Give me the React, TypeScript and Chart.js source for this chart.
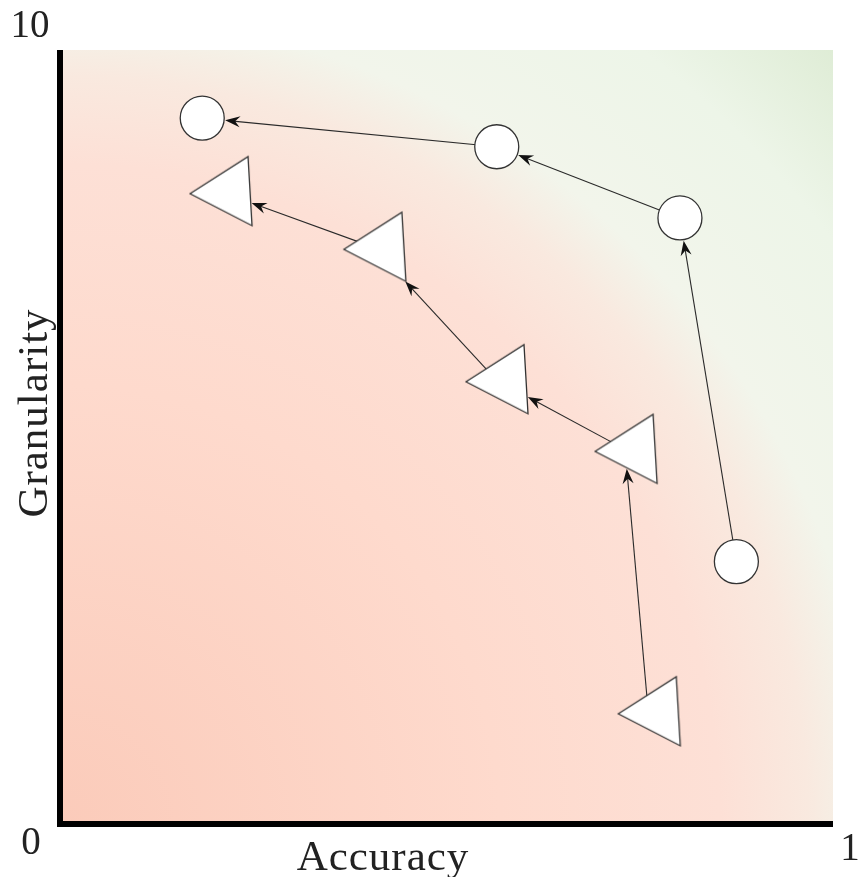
import React, { useEffect, useRef } from 'react';
import { Chart, registerables } from 'chart.js';

Chart.register(...registerables);

// ---- data (arrow path order) ----
const circleX = [0.875, 0.802, 0.565, 0.184];
const circleY = [3.39, 7.83, 8.75, 9.12];
const triangleX = [0.761, 0.731, 0.564, 0.406, 0.207];
const triangleY = [1.45, 4.84, 5.74, 7.45, 8.17];
const xTickLabels = ['0', '1'];
const yTickLabels = ['0', '10'];
const xTitle = 'Accuracy';
const yTitle = 'Granularity';

// ---- styling ----
const TRI: [number, number][] = [[-30, 2], [28, -35], [32, 34]];
const CIRCLE_R = 22;
const SERIF = '"Liberation Serif", "Times New Roman", serif';

function makeTriangle(): HTMLCanvasElement {
  const c = document.createElement('canvas');
  c.width = 70;
  c.height = 76;
  const ctx = c.getContext('2d')!;
  const cx = 35, cy = 38;
  ctx.beginPath();
  TRI.forEach(([dx, dy], i) => (i ? ctx.lineTo(cx + dx, cy + dy) : ctx.moveTo(cx + dx, cy + dy)));
  ctx.closePath();
  ctx.fillStyle = '#ffffff';
  ctx.fill();
  ctx.strokeStyle = '#333';
  ctx.lineWidth = 1.3;
  ctx.stroke();
  return c;
}

function entry(sx: number, sy: number, ex: number, ey: number, kind: string): [number, number] {
  if (kind === 'circle') {
    const d = Math.hypot(ex - sx, ey - sy);
    const r = CIRCLE_R + 1;
    return [ex - ((ex - sx) / d) * r, ey - ((ey - sy) / d) * r];
  }
  let bestT = 1;
  for (let i = 0; i < 3; i++) {
    const p1 = [ex + TRI[i][0], ey + TRI[i][1]];
    const p2 = [ex + TRI[(i + 1) % 3][0], ey + TRI[(i + 1) % 3][1]];
    const rx = ex - sx, ry = ey - sy;
    const qx = p2[0] - p1[0], qy = p2[1] - p1[1];
    const den = rx * qy - ry * qx;
    if (Math.abs(den) < 1e-9) continue;
    const wx = p1[0] - sx, wy = p1[1] - sy;
    const t = (wx * qy - wy * qx) / den;
    const u = (wx * ry - wy * rx) / den;
    if (t >= 0 && t <= 1 && u >= 0 && u <= 1 && t < bestT) bestT = t;
  }
  const d = Math.hypot(ex - sx, ey - sy);
  const t = bestT - 1 / d;
  return [sx + (ex - sx) * t, sy + (ey - sy) * t];
}

const arrowsPlugin = {
  id: 'arrowsAndFrame',
  beforeDatasetsDraw(chart: any) {
    const { ctx, chartArea } = chart;
    const { left, right, top, bottom } = chartArea;
    // background gradient
    const g = ctx.createRadialGradient(left, bottom, 0, left, bottom, 1100);
    g.addColorStop(0, 'rgb(251,203,186)');
    g.addColorStop(0.4, 'rgb(254,218,205)');
    g.addColorStop(0.6, 'rgb(253,224,214)');
    g.addColorStop(0.68, 'rgb(249,233,223)');
    g.addColorStop(0.74, 'rgb(242,245,235)');
    g.addColorStop(0.88, 'rgb(237,245,232)');
    g.addColorStop(1, 'rgb(222,236,213)');
    ctx.save();
    ctx.fillStyle = g;
    ctx.fillRect(left, top, right - left, bottom - top);
    ctx.restore();

    const xs = chart.scales.x, ys = chart.scales.y;
    const series = [
      { X: circleX, Y: circleY, kind: 'circle' },
      { X: triangleX, Y: triangleY, kind: 'triangle' },
    ];
    const heads: any[] = [];
    ctx.save();
    ctx.strokeStyle = '#2a2a2a';
    ctx.lineWidth = 1.1;
    for (const s of series) {
      for (let i = 0; i < s.X.length - 1; i++) {
        const sx = xs.getPixelForValue(s.X[i]);
        const sy = ys.getPixelForValue(s.Y[i]);
        const ex = xs.getPixelForValue(s.X[i + 1]);
        const ey = ys.getPixelForValue(s.Y[i + 1]);
        const [tx, ty] = entry(sx, sy, ex, ey, s.kind);
        const ang = Math.atan2(ty - sy, tx - sx);
        ctx.beginPath();
        ctx.moveTo(sx, sy);
        ctx.lineTo(tx - Math.cos(ang) * 8, ty - Math.sin(ang) * 8);
        ctx.stroke();
        heads.push([tx, ty, ang]);
      }
    }
    ctx.restore();
    chart.$heads = heads;
  },
  afterDatasetsDraw(chart: any) {
    const { ctx, chartArea } = chart;
    const { left, right, top, bottom } = chartArea;
    ctx.save();
    ctx.fillStyle = '#111';
    for (const [tx, ty, ang] of chart.$heads || []) {
      ctx.save();
      ctx.translate(tx, ty);
      ctx.rotate(ang);
      ctx.beginPath();
      ctx.moveTo(0, 0);
      ctx.lineTo(-15, -5.5);
      ctx.lineTo(-10, 0);
      ctx.lineTo(-15, 5.5);
      ctx.closePath();
      ctx.fill();
      ctx.restore();
    }
    // axis lines
    ctx.fillStyle = '#000';
    ctx.fillRect(left - 3, top, 6, bottom - top + 3);
    ctx.fillRect(left - 3, bottom - 3, right - left + 3, 6);

    // tick labels
    const xs = chart.scales.x, ys = chart.scales.y;
    ctx.fillStyle = '#222';
    ctx.font = `39px ${SERIF}`;
    ctx.textAlign = 'center';
    ctx.textBaseline = 'alphabetic';
    ctx.fillText(xTickLabels[0], xs.getPixelForValue(0) - 29, bottom + 30);
    ctx.fillText(xTickLabels[1], xs.getPixelForValue(1) + 17, bottom + 36);
    ctx.fillText(yTickLabels[1], left - 30, ys.getPixelForValue(10) - 13);

    // titles
    ctx.font = `43px ${SERIF}`;
    try { (ctx as any).letterSpacing = '1px'; } catch (e) {}
    ctx.fillText(xTitle, 383, 870);
    ctx.save();
    ctx.translate(47, 413);
    ctx.rotate(-Math.PI / 2);
    ctx.fillText(yTitle, 0, 0);
    ctx.restore();
    try { (ctx as any).letterSpacing = '0px'; } catch (e) {}
    ctx.restore();
  },
};

export default function App() {
  const ref = useRef<HTMLCanvasElement | null>(null);
  useEffect(() => {
    if (!ref.current) return;
    const tri = makeTriangle();
    const chart = new Chart(ref.current, {
      type: 'scatter',
      data: {
        datasets: [
          {
            label: 'circles',
            data: circleX.map((x, i) => ({ x, y: circleY[i] })),
            pointStyle: 'circle',
            pointRadius: CIRCLE_R,
            pointBackgroundColor: '#ffffff',
            pointBorderColor: '#333',
            pointBorderWidth: 1.3,
            showLine: false,
          },
          {
            label: 'triangles',
            data: triangleX.map((x, i) => ({ x, y: triangleY[i] })),
            pointStyle: tri as any,
            pointRadius: 38,
            showLine: false,
          },
        ],
      },
      options: {
        responsive: false,
        animation: false,
        events: [],
        layout: { autoPadding: false, padding: { left: 60, right: 25, top: 50, bottom: 53 } },
        plugins: { legend: { display: false }, tooltip: { enabled: false } },
        scales: {
          x: { type: 'linear', min: 0, max: 1, display: false },
          y: { type: 'linear', min: 0, max: 10, display: false },
        },
      },
      plugins: [arrowsPlugin],
    });
    return () => chart.destroy();
  }, []);
  return (
    <div style={{ position: 'absolute', left: 0, top: 0, width: 858, height: 877, background: '#fff' }}>
      <canvas ref={ref} width={858} height={877} style={{ display: 'block' }} />
    </div>
  );
}
